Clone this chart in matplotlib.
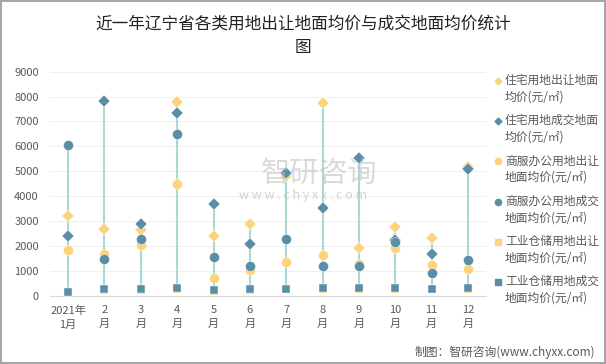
import matplotlib
matplotlib.use("Agg")
import matplotlib.pyplot as plt
from matplotlib.lines import Line2D
import numpy as np

plt.rcParams['font.family'] = ['Noto Sans CJK SC', 'DejaVu Sans']

months = ["2021年\n1月", "2\n月", "3\n月", "4\n月", "5\n月", "6\n月",
          "7\n月", "8\n月", "9\n月", "10\n月", "11\n月", "12\n月"]

res_transfer = [3200, 2690, 2640, 7800, 2390, 2870, 4810, 7730, 1930, 2750, 2300, 5180]
res_deal = [2400, 7830, 2890, 7330, 3670, 2090, 4920, 3510, 5520, 2240, 1660, 5080]
com_transfer = [1820, 1660, 2020, 4470, 720, 1050, 1340, 1650, 1270, 1900, 1220, 1070]
com_deal = [6040, 1490, 2280, 6480, 1540, 1190, 2280, 1210, 1180, 2140, 900, 1430]
ind_transfer = [150, 220, 240, 250, 170, 240, 250, 270, 260, 270, 250, 250]
ind_deal = [160, 260, 280, 310, 230, 280, 260, 320, 310, 320, 280, 300]

labels = ["住宅用地出让地面\n均价(元/㎡)", "住宅用地成交地面\n均价(元/㎡)",
          "商服办公用地出让\n地面均价(元/㎡)", "商服办公用地成交\n地面均价(元/㎡)",
          "工业仓储用地出让\n地面均价(元/㎡)", "工业仓储用地成交\n地面均价(元/㎡)"]

YEL = "#FCD47C"
BLU = "#5A8EA7"
LINE = "#A7DAD7"
TXT = "#595959"

series = [res_transfer, res_deal, com_transfer, com_deal, ind_transfer, ind_deal]
markers = ["D", "D", "o", "o", "s", "s"]
colors = [YEL, BLU, YEL, BLU, YEL, BLU]
sizes = [6, 6, 7.2, 7.2, 6, 6]

W, H = 606, 364
fig = plt.figure(figsize=(W / 100, H / 100), dpi=100)
fig.patch.set_edgecolor("#A6A6A6")
fig.patch.set_linewidth(1.5)
ax = fig.add_axes([0.0825, 0.1876, 0.7195, 0.6154])

x = np.arange(len(months))
data = np.array(series)
ax.vlines(x, data.min(axis=0), data.max(axis=0), colors=LINE, linewidth=1.5, zorder=2)

for s, m, c, ms in zip(series, markers, colors, sizes):
    ax.plot(x, s, linestyle="none", marker=m, markersize=ms, color=c,
            markeredgecolor="white", markeredgewidth=0.3, zorder=3)

ax.set_xlim(-0.5, len(months) - 0.5)
ax.set_ylim(0, 9000)
ax.set_yticks(np.arange(0, 9001, 1000))
ax.set_xticks(x)
ax.set_xticklabels(months, linespacing=1.45)
ax.tick_params(axis="both", length=0, labelsize=8, colors=TXT)
ax.tick_params(axis="x", pad=7)
ax.tick_params(axis="y", pad=8)
ax.grid(axis="y", color="#F0F0F0", linewidth=0.8)
ax.set_axisbelow(True)
for sp in ["top", "right", "left"]:
    ax.spines[sp].set_visible(False)
ax.spines["bottom"].set_color("#D9D9D9")

fig.text(0.5, 1 - 36 / H, "近一年辽宁省各类用地出让地面均价与成交地面均价统计\n图",
         ha="center", va="center", fontsize=12, color="#222222", linespacing=1.5)

# legend (manual, marker aligned with first text line)
for i, (m, c, lab) in enumerate(zip(markers, colors, labels)):
    y0 = 80.7 + 40.3 * i
    fig.add_artist(Line2D([498 / W], [1 - y0 / H], transform=fig.transFigure,
                          linestyle="none", marker=m, color=c,
                          markersize=3.5 if m == "D" else 4.5))
    fig.text(505 / W, 1 - (y0 - 7) / H, lab, ha="left", va="top", fontsize=8.5,
             color=TXT, linespacing=1.35)

fig.text(0.982, 0.033, "制图：智研咨询(www.chyxx.com)", ha="right", va="center",
         fontsize=8.5, color=TXT)

# watermark
fig.text(319 / W, 1 - 174 / H, "智研咨询", ha="center", va="center", fontsize=21,
         color="#BDBDBD", alpha=0.55)
fig.text(303 / W, 1 - 195 / H, "w w w . c h y x x . c o m", ha="center", va="center",
         fontsize=9, color="#BDBDBD", alpha=0.65)

fig.savefig("out.png", dpi=100)
